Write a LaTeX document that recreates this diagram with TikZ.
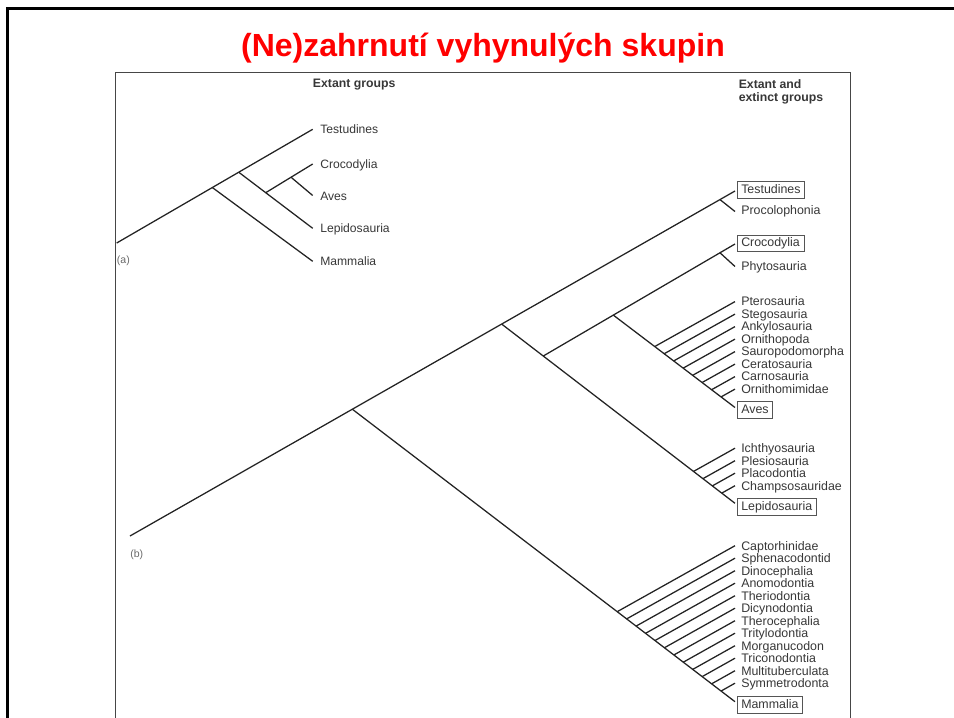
\documentclass[tikz,border=0pt]{standalone}
\usepackage{fontspec}
\setmainfont{Liberation Sans}
\definecolor{titlered}{RGB}{255,0,0}
\definecolor{inkline}{RGB}{35,35,35}
\definecolor{inktext}{RGB}{55,55,55}
\definecolor{framegray}{RGB}{70,70,70}

\begin{document}
\begin{tikzpicture}[x=0.75pt,y=-0.75pt,
  branch/.style={draw=inkline, line width=0.95pt},
  taxon/.style={anchor=base west, inner xsep=3.2pt, inner ysep=1.95pt,
    text height=6.7pt, text depth=1.8pt, outer sep=0pt,
    font=\fontsize{9.3}{10}\selectfont, text=inktext},
  taxonbox/.style={taxon, draw=inktext!85, line width=0.7pt},
  ataxon/.style={anchor=base west, inner sep=0pt,
    font=\fontsize{9.1}{10}\selectfont, text=inktext},
  header/.style={anchor=base west, inner sep=0pt,
    font=\fontsize{9.2}{10}\selectfont\bfseries, text=inktext},
  panel/.style={anchor=base west, inner sep=0pt,
    font=\fontsize{7.9}{9}\selectfont, text=inktext!75},
]
\useasboundingbox (0,0) rectangle (954,718);

% slide frame and figure frame
\draw[line width=2pt, black] (7.3,730) -- (7.3,8.7) -- (970,8.7);
\draw[line width=0.9pt, framegray] (115.5,730) -- (115.5,72.3) -- (850.5,72.3) -- (850.5,730);

% title
\node[anchor=base, inner sep=0pt, text=titlered,
  font=\fontsize{24}{28}\selectfont\bfseries] (title) at (483,56.7)
  {(Ne)zahrnutí vyhynulých skupin};

% headers
\node[header] (hA) at (312.7,87.3) {Extant groups};
\node[header] (hB1) at (738.5,88.5) {Extant and};
\node[header] (hB2) at (738.5,101.8) {extinct groups};

% ---------------- (a) extant groups only ----------------
\coordinate (aR) at (116.7,243);
\coordinate (aTes) at (312.7,129.3);
\coordinate (a1) at (212.3,187.5);
\coordinate (a2) at (238.7,172.2);
\coordinate (aMam) at (312.7,261.3);
\coordinate (aLep) at (312.7,228.3);
\coordinate (a3) at (265.7,192.7);
\coordinate (aCro) at (312.7,164);
\coordinate (a4) at (291,177.2);
\coordinate (aAve) at (312.7,195.5);

\draw[branch] (aR) -- (aTes);
\draw[branch] (a1) -- (aMam);
\draw[branch] (a2) -- (aLep);
\draw[branch] (a3) -- (aCro);
\draw[branch] (a4) -- (aAve);

\node[ataxon] (aTesL) at (320,133.6) {Testudines};
\node[ataxon] (aCroL) at (320,168.3) {Crocodylia};
\node[ataxon] (aAveL) at (320,200.3) {Aves};
\node[ataxon] (aLepL) at (320,232.6) {Lepidosauria};
\node[ataxon] (aMamL) at (320,265.6) {Mammalia};
\node[panel] (pa) at (116.7,263.5) {(a)};

% ---------------- (b) extant and extinct groups ----------------
\coordinate (R) at (130,536);
\coordinate (A) at (352.3,409.2);
\coordinate (B) at (501.7,324.1);
\coordinate (TP) at (720,199.6);
\coordinate (C) at (543.3,356);
\coordinate (D) at (613.3,315.1);
\coordinate (CP) at (720,252.8);

\coordinate (tTes) at (735,191);
\coordinate (tPro) at (735,211.5);
\coordinate (tCro) at (735,244);
\coordinate (tPhy) at (735,266.5);
\coordinate (tAve) at (735,407.5);
\coordinate (tLep) at (735,503.3);
\coordinate (tMam) at (735,701.7);

\draw[branch] (R) -- (tTes);
\draw[branch] (TP) -- (tPro);
\draw[branch] (A) -- (tMam);
\draw[branch] (B) -- (tLep);
\draw[branch] (C) -- (tCro);
\draw[branch] (CP) -- (tPhy);
\draw[branch] (D) -- (tAve);

\node[taxonbox] (Tes) at (737,193.3) {Testudines};
\node[taxon] (Pro) at (737,214.3) {Procolophonia};
\node[taxonbox] (Cro) at (737,246.7) {Crocodylia};
\node[taxon] (Phy) at (737,270) {Phytosauria};
\node[taxonbox] (Ave) at (737,413.3) {Aves};
\node[taxonbox] (Lep) at (737,510.2) {Lepidosauria};
\node[taxonbox] (Mam) at (737,708.2) {Mammalia};
\node[panel] (pb) at (130,557) {(b)};

% comb of extinct archosaur lineages on the stem to Aves
\foreach \n [count=\i from 0] in {Pterosauria,Stegosauria,Ankylosauria,Ornithopoda,
    Sauropodomorpha,Ceratosauria,Carnosauria,Ornithomimidae} {
  \pgfmathsetmacro\yc{301.6+12.5*\i}
  \pgfmathsetmacro\yb{\yc+4.3}
  \pgfmathsetmacro\yf{\yc+56}
  \node[taxon] (dino\i) at (737,\yb) {\n};
  \coordinate (dt\i) at (735,\yc);
  \coordinate (df\i) at (635,\yf);
  \draw[branch] (intersection of D--tAve and dt\i--df\i) -- (dt\i);
}

% extinct lineages on the stem to Lepidosauria
\foreach \n [count=\i from 0] in {Ichthyosauria,Plesiosauria,Placodontia,Champsosauridae} {
  \pgfmathsetmacro\yc{448.2+12.5*\i}
  \pgfmathsetmacro\yb{\yc+4.3}
  \pgfmathsetmacro\yf{\yc+56}
  \node[taxon] (lepi\i) at (737,\yb) {\n};
  \coordinate (lt\i) at (735,\yc);
  \coordinate (lf\i) at (635,\yf);
  \draw[branch] (intersection of B--tLep and lt\i--lf\i) -- (lt\i);
}

% extinct synapsid lineages on the stem to Mammalia
\foreach \n [count=\i from 0] in {Captorhinidae,Sphenacodontid,Dinocephalia,Anomodontia,
    Theriodontia,Dicynodontia,Therocephalia,Tritylodontia,Morganucodon,
    Triconodontia,Multituberculata,Symmetrodonta} {
  \pgfmathsetmacro\yc{545.7+12.5*\i}
  \pgfmathsetmacro\yb{\yc+4.3}
  \pgfmathsetmacro\yf{\yc+56}
  \node[taxon] (syn\i) at (737,\yb) {\n};
  \coordinate (st\i) at (735,\yc);
  \coordinate (sf\i) at (635,\yf);
  \draw[branch] (intersection of A--tMam and st\i--sf\i) -- (st\i);
}
\end{tikzpicture}
\end{document}
